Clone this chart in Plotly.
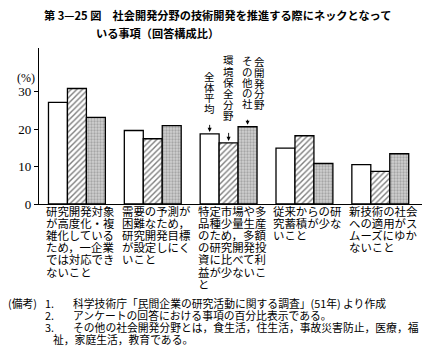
import plotly.graph_objects as go

# ---- data ----
categories = [
    "研究開発対象\nが高度化・複\n雑化している\nため，一企業\nでは対応でき\nないこと",
    "需要の予測が\n困難なため，\n研究開発目標\nが設定しにく\nいこと",
    "特定市場や多\n品種少量生産\nのため，多額\nの研究開発投\n資に比べて利\n益が少ないこ\nと",
    "従来からの研\n究蓄積が少な\nいこと",
    "新技術の社会\nへの適用がス\nムーズにゆか\nないこと",
]
series_names = ["全体平均", "環境保全分野", "その他の社会開発分野"]
avg_all = [27.1, 19.6, 18.7, 14.9, 10.5]
env = [30.8, 17.4, 16.3, 18.2, 8.7]
other_social = [23.1, 20.9, 20.6, 10.8, 13.4]
y_ticks = [0, 10, 20, 30]

title_lines = ["第 3—25 図　社会開発分野の技術開発を推進する際にネックとなって",
               "いる事項（回答構成比）"]
notes = [
    ("1.", "科学技術庁「民間企業の研究活動に関する調査」(51年) より作成"),
    ("2.", "アンケートの回答における事項の百分比表示である。"),
    ("3.", "その他の社会開発分野とは，食生活，住生活，事故災害防止，医療，福"),
    ("", "祉，家庭生活，教育である。"),
]

# ---- layout geometry ----
W, H = 443, 356
L, R, T, B = 39, 422, 48, 204.5
PW, PH = R - L, B - T
YMAX = 41.6

def px(x):
    return (x - L) / PW

def py(y):
    return (B - y) / PH

JP = "Noto Sans CJK JP"
SERIF = "Liberation Serif"
xs = list(range(len(categories)))

fig = go.Figure()
fig.add_trace(go.Bar(
    x=xs, y=avg_all, name=series_names[0],
    marker=dict(color="white", line=dict(color="black", width=1.3)),
))
fig.add_trace(go.Bar(
    x=xs, y=env, name=series_names[1],
    marker=dict(color="white", line=dict(color="black", width=1.3),
                pattern=dict(shape="/", fgcolor="black", bgcolor="white",
                             size=4, solidity=0.35)),
))
fig.add_trace(go.Bar(
    x=xs, y=other_social, name=series_names[2],
    marker=dict(color="#d0d0d0", line=dict(color="black", width=1.3),
                pattern=dict(shape=".", fgcolor="#7a7a7a", bgcolor="#d0d0d0",
                             size=3, solidity=0.45)),
))

ann = []
# title
ann.append(dict(text=title_lines[0], xref="paper", yref="paper", x=px(42), y=py(15),
                xanchor="left", yanchor="middle", showarrow=False,
                font=dict(family=JP, size=11.2, color="black", weight="bold")))
ann.append(dict(text=title_lines[1], xref="paper", yref="paper", x=px(94), y=py(33),
                xanchor="left", yanchor="middle", showarrow=False,
                font=dict(family=JP, size=11.2, color="black", weight="bold")))
# unit label
ann.append(dict(text="(%)", xref="paper", yref="paper", x=px(26), y=py(78),
                xanchor="center", yanchor="middle", showarrow=False,
                font=dict(family=SERIF, size=12, color="black")))

# category labels, left aligned, one annotation per line
for i, cat in enumerate(categories):
    for k, line in enumerate(cat.split("\n")):
        ann.append(dict(text=line, xref="x", yref="y", x=xs[i], y=0,
                        xanchor="left", yanchor="middle", xshift=-33,
                        yshift=-(211 - B) - 12.2 * k, showarrow=False,
                        font=dict(family=JP, size=11.4, color="black")))

# vertical series labels with arrows at the third group
g = 2
offsets = [-0.25, 0.0, 0.25]
values = [avg_all[g], env[g], other_social[g]]
# (series index, text, arrow length px, top char centre px, char step px, x shift px)
vlabels = [
    (0, "全体平均", 19, 77, 10.5, 0),
    (1, "環境保全分野", 20, 60, 11.2, 0),
    (2, "その他の社", 17, 61, 10.6, 0),
    (2, "会開発分野", 0, 62, 10.6, 12),
]
for si, txt, alen, top_c, step, xsh in vlabels:
    xv = g + offsets[si]
    yv = values[si]
    if alen:
        ann.append(dict(text=" ", xref="x", yref="y", x=xv, y=yv, ax=0, ay=-alen,
                        showarrow=True, arrowhead=2, arrowsize=0.9, arrowwidth=0.9,
                        standoff=2, arrowcolor="black"))
    for k, ch in enumerate(txt):
        ann.append(dict(text=ch, xref="x", yref="paper", x=xv, y=py(top_c + step * k),
                        xanchor="center", yanchor="middle", xshift=xsh,
                        showarrow=False,
                        font=dict(family=JP, size=10.5, color="black")))

# notes
ann.append(dict(text="(備考)", xref="paper", yref="paper", x=px(6), y=py(304),
                xanchor="left", yanchor="middle", showarrow=False,
                font=dict(family=JP, size=10.8, color="black")))
for k, (num, line) in enumerate(notes):
    yy = py(304 + 12 * k)
    if num:
        ann.append(dict(text=num, xref="paper", yref="paper", x=px(43), y=yy,
                        xanchor="left", yanchor="middle", showarrow=False,
                        font=dict(family=JP, size=10.8, color="black")))
        ann.append(dict(text=line, xref="paper", yref="paper", x=px(71), y=yy,
                        xanchor="left", yanchor="middle", showarrow=False,
                        font=dict(family=JP, size=10.8, color="black")))
    else:
        ann.append(dict(text=line, xref="paper", yref="paper", x=px(51), y=yy,
                        xanchor="left", yanchor="middle", showarrow=False,
                        font=dict(family=JP, size=10.8, color="black")))

fig.update_layout(
    width=W, height=H,
    margin=dict(l=L, r=W - R, t=T, b=H - B, pad=0),
    paper_bgcolor="white", plot_bgcolor="white",
    barmode="group", bargap=0.25, bargroupgap=0,
    showlegend=False,
    annotations=ann,
    xaxis=dict(range=[-0.5, 4.55], showticklabels=False, ticks="",
               showgrid=False, zeroline=False, showline=True,
               linecolor="black", linewidth=1.3, fixedrange=True),
    yaxis=dict(range=[0, YMAX], tickvals=y_ticks, ticktext=[str(v) for v in y_ticks],
               ticks="outside", ticklen=4, tickwidth=1, tickcolor="black",
               showgrid=False, zeroline=False, showline=True,
               linecolor="black", linewidth=1.3,
               tickfont=dict(family=SERIF, size=13, color="black"),
               fixedrange=True),
)

fig.write_html("out.html")
